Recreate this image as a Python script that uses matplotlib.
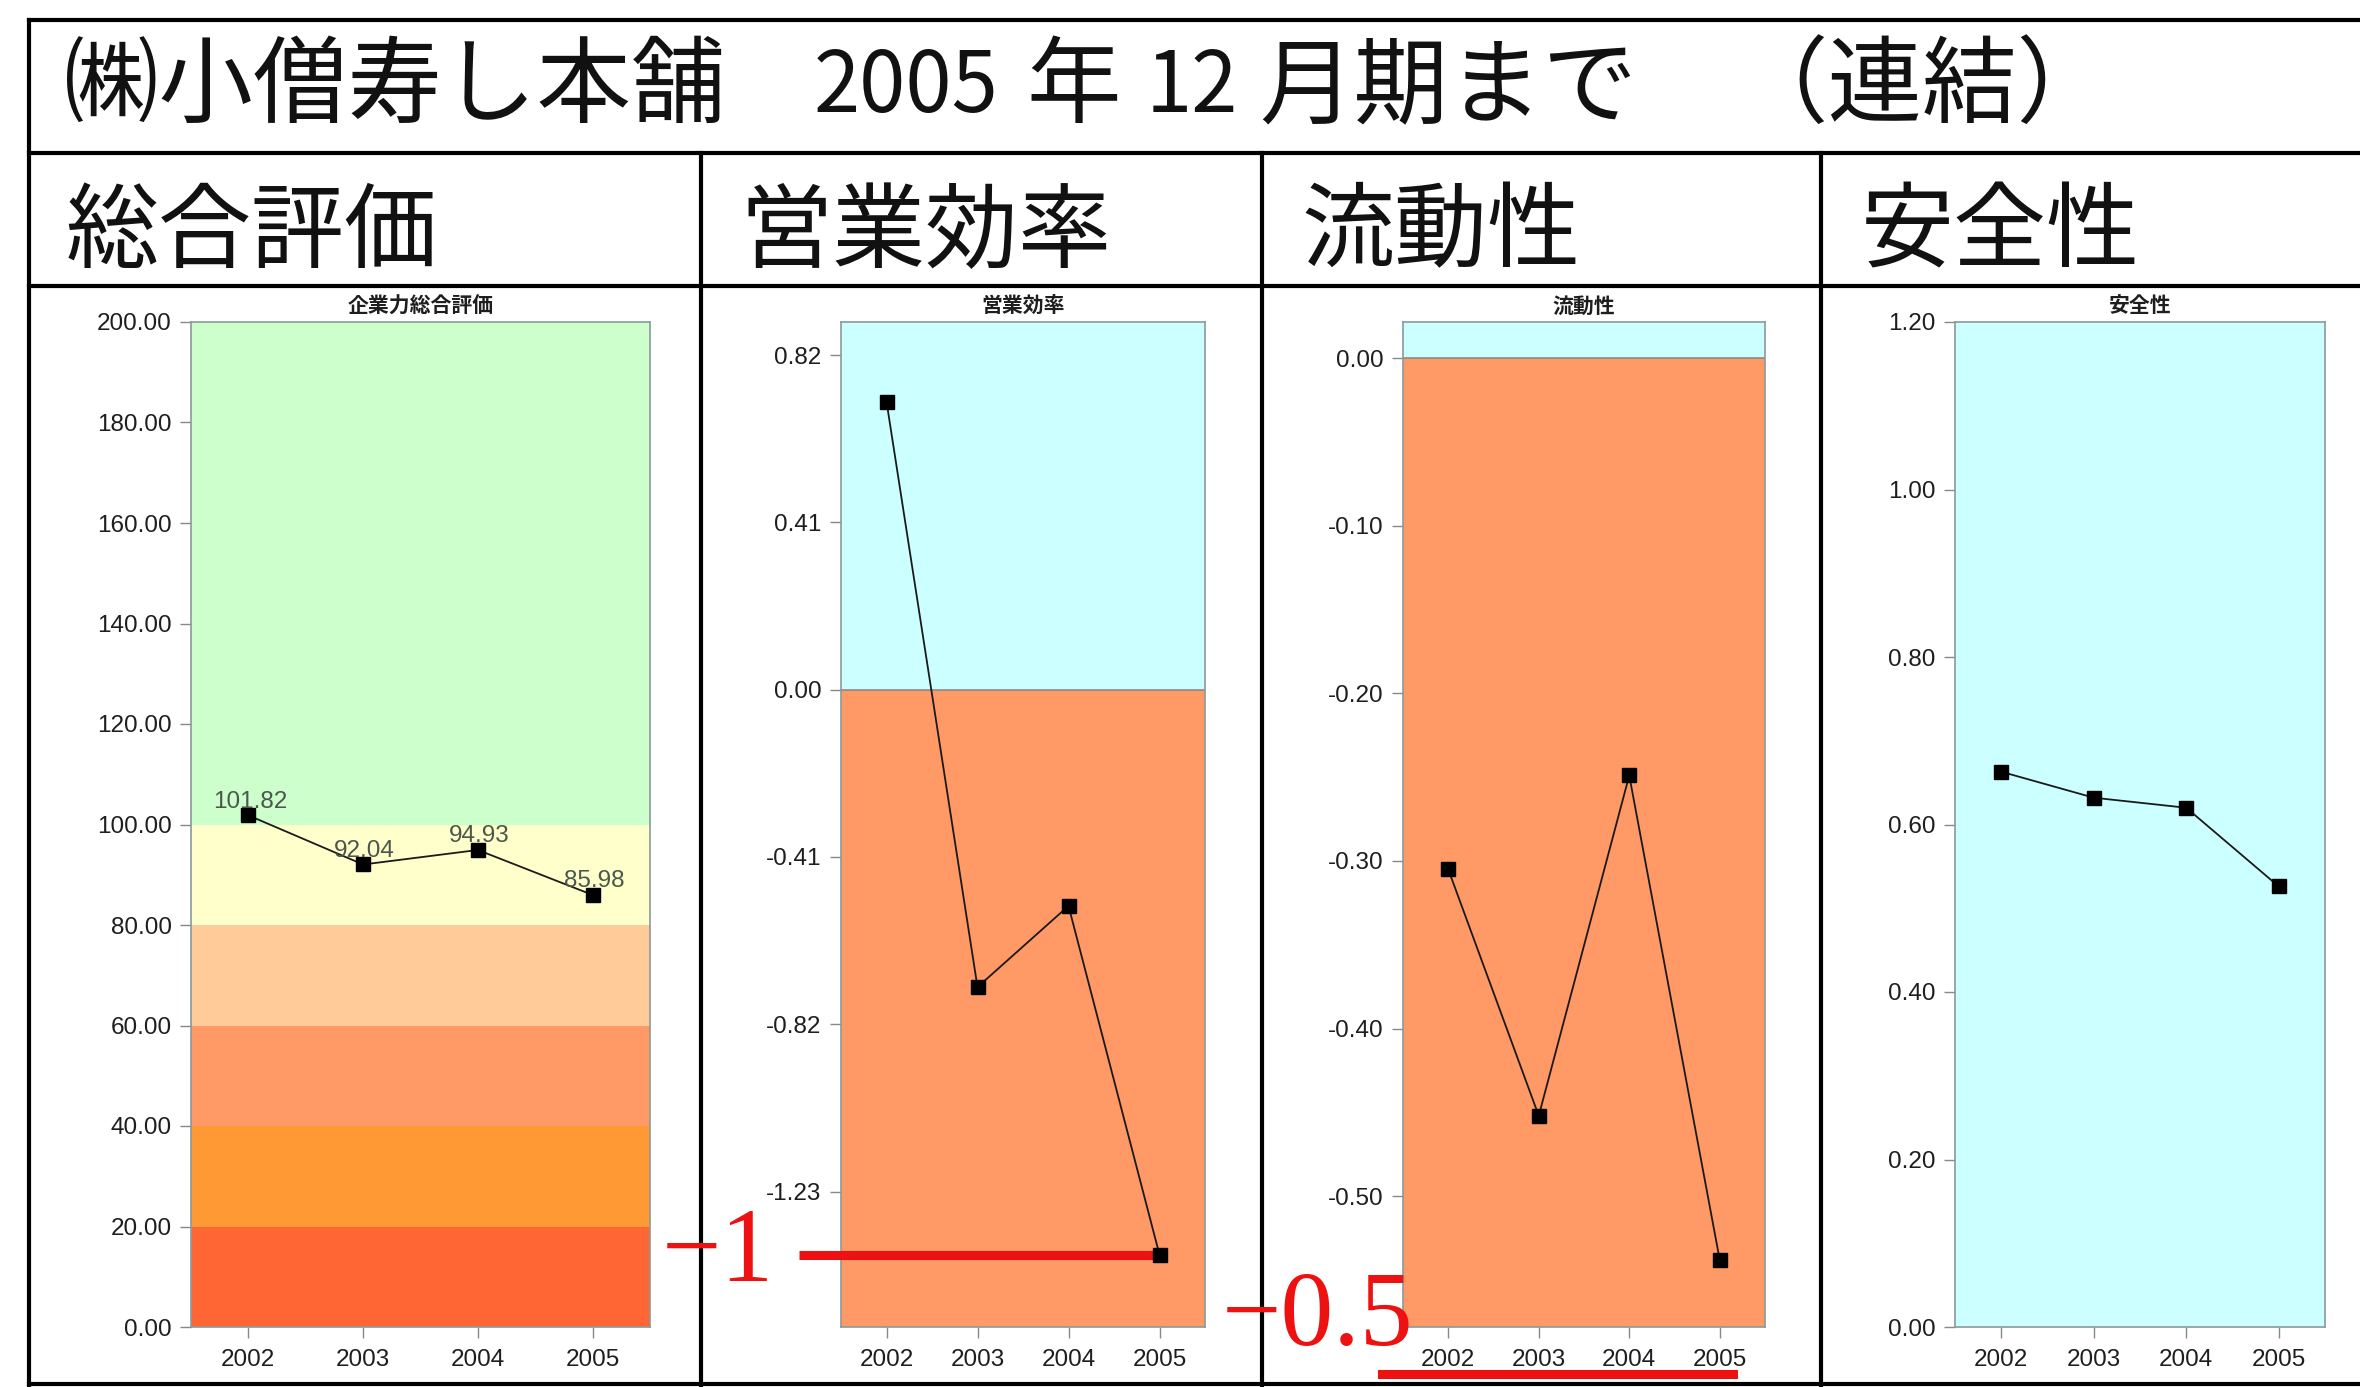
import matplotlib
matplotlib.use("Agg")
import matplotlib.pyplot as plt
from matplotlib.lines import Line2D
from matplotlib.ticker import FormatStrFormatter

plt.rcParams['font.family'] = ['Liberation Sans', 'Noto Sans CJK JP', 'DejaVu Sans']
plt.rcParams['axes.unicode_minus'] = False

W, H = 2360, 1387

years = ["2002", "2003", "2004", "2005"]

# 総合評価
total_vals = [101.82, 92.04, 94.93, 85.98]
total_ticks = [0, 20, 40, 60, 80, 100, 120, 140, 160, 180, 200]
total_bands = [0, 20, 40, 60, 80, 100, 200]
total_colors = ["#FF6633", "#FF9933", "#FF9966", "#FFCC99", "#FFFFCC", "#CCFFCC"]

# 営業効率
eff_vals = [0.706, -0.729, -0.530, -1.385]
eff_ticks = [-1.23, -0.82, -0.41, 0.00, 0.41, 0.82]
eff_lim = (-1.562, 0.901)

# 流動性
liq_vals = [-0.305, -0.452, -0.249, -0.538]
liq_ticks = [-0.50, -0.40, -0.30, -0.20, -0.10, 0.00]
liq_lim = (-0.578, 0.0215)

# 安全性
safe_vals = [0.663, 0.632, 0.620, 0.526]
safe_ticks = [0.00, 0.20, 0.40, 0.60, 0.80, 1.00, 1.20]
safe_lim = (0.0, 1.2)

panel_titles = ["企業力総合評価", "営業効率", "流動性", "安全性"]
section_titles = ["総合評価", "営業効率", "流動性", "安全性"]

POS = "#CCFFFF"
NEG = "#FF9966"
CJK = ['Noto Sans CJK JP', 'DejaVu Sans']


def fx(px):
    return px / W


def fy(py):
    return 1 - py / H


def make_ax(l, t, r, b):
    return fig.add_axes([fx(l), fy(b), (r - l) / W, (b - t) / H])


def style_ax(ax, vals, ticks, ylim, title):
    x = list(range(len(years)))
    ax.plot(x, vals, color="#1a1a1a", lw=1.3, marker="s", ms=10,
            mfc="black", mec="black", zorder=5)
    ax.set_xlim(-0.5, len(years) - 0.5)
    ax.set_ylim(*ylim)
    ax.set_xticks(x)
    ax.set_xticklabels(years)
    ax.set_yticks(ticks)
    ax.yaxis.set_major_formatter(FormatStrFormatter("%.2f"))
    ax.tick_params(axis="both", direction="out", length=8, width=1,
                   color="#888888", labelsize=17.5, labelcolor="#1e1e1e", pad=6)
    ax.tick_params(axis="x", pad=8)
    for s in ax.spines.values():
        s.set_color("#8a9a9a")
        s.set_linewidth(1.2)
    ax.set_title(title, fontsize=15, fontweight="bold", family=CJK, pad=7,
                 color="#1e1e1e")


fig = plt.figure(figsize=(W / 100, H / 100), dpi=100)

# panel 1: 総合評価
ax1 = make_ax(191, 322, 650, 1327)
for lo, hi, c in zip(total_bands[:-1], total_bands[1:], total_colors):
    ax1.axhspan(lo, hi, color=c, lw=0, zorder=0)
style_ax(ax1, total_vals, total_ticks, (total_bands[0], total_bands[-1]), panel_titles[0])
for i, v in enumerate(total_vals):
    ax1.annotate(f"{v:.2f}", (i, v), xytext=(1, 2), textcoords="offset points",
                 ha="center", va="bottom", fontsize=17.5, color="#4a574a", zorder=6)

# panels 2-4: sign coloured background
rects = [(841, 322, 1205, 1327), (1403, 322, 1765, 1327), (1955, 322, 2325, 1327)]
series = [(eff_vals, eff_ticks, eff_lim), (liq_vals, liq_ticks, liq_lim),
          (safe_vals, safe_ticks, safe_lim)]
axes = [ax1]
for rect, (vals, ticks, lim), title in zip(rects, series, panel_titles[1:]):
    ax = make_ax(*rect)
    if lim[1] > 0:
        ax.axhspan(max(lim[0], 0), lim[1], color=POS, lw=0, zorder=0)
    if lim[0] < 0:
        ax.axhspan(lim[0], min(lim[1], 0), color=NEG, lw=0, zorder=0)
        ax.axhline(0, color="#8a8a8a", lw=1.2, zorder=1)
    style_ax(ax, vals, ticks, lim, title)
    axes.append(ax)

# table frame
line_kw = dict(color="black", lw=3, transform=fig.transFigure)
for y in [20, 153, 286, 1384]:
    fig.add_artist(Line2D([fx(29), fx(W)], [fy(y), fy(y)], **line_kw))
fig.add_artist(Line2D([fx(29), fx(29)], [fy(20), fy(H)], **line_kw))
for x in [701, 1262, 1821]:
    fig.add_artist(Line2D([fx(x), fx(x)], [fy(153), fy(H)], **line_kw))

# title row
tkw = dict(fontsize=68, family=CJK, va="center", ha="left", color="#111111")
dkw = dict(tkw, fontsize=60)
fig.text(fx(64), fy(88), "㈱小僧寿し本舗", **tkw)
fig.text(fx(814), fy(88), "2005", **dkw)
fig.text(fx(1026), fy(88), "年", **tkw)
fig.text(fx(1146), fy(88), "12", **dkw)
fig.text(fx(1259), fy(88), "月期まで", **tkw)
fig.text(fx(1733), fy(88), "（連結）", **tkw)

# section headers
hkw = dict(tkw, fontsize=67)
for x, s in zip([66, 739, 1301, 1861], section_titles):
    fig.text(fx(x), fy(234), s, **hkw)

# red hand annotations
red = "#EE1111"
ax2 = axes[1]
ax2.plot([-0.115, 0.875], [eff_vals[-1]] * 2, color=red, lw=6.5,
         transform=ax2.get_yaxis_transform(), clip_on=False, zorder=4,
         solid_capstyle="butt")
fig.text(fx(662), fy(1281), "−1", fontsize=76, family=["Liberation Serif"],
         color=red, ha="left", va="baseline")
fig.text(fx(1222), fy(1345), "−0.5", fontsize=76, family=["Liberation Serif"],
         color=red, ha="left", va="baseline")
fig.add_artist(Line2D([fx(1382), fx(1733)], [fy(1374), fy(1374)], color=red,
                      lw=6.5, transform=fig.transFigure))

fig.savefig("out.png", dpi=100, facecolor="white")
